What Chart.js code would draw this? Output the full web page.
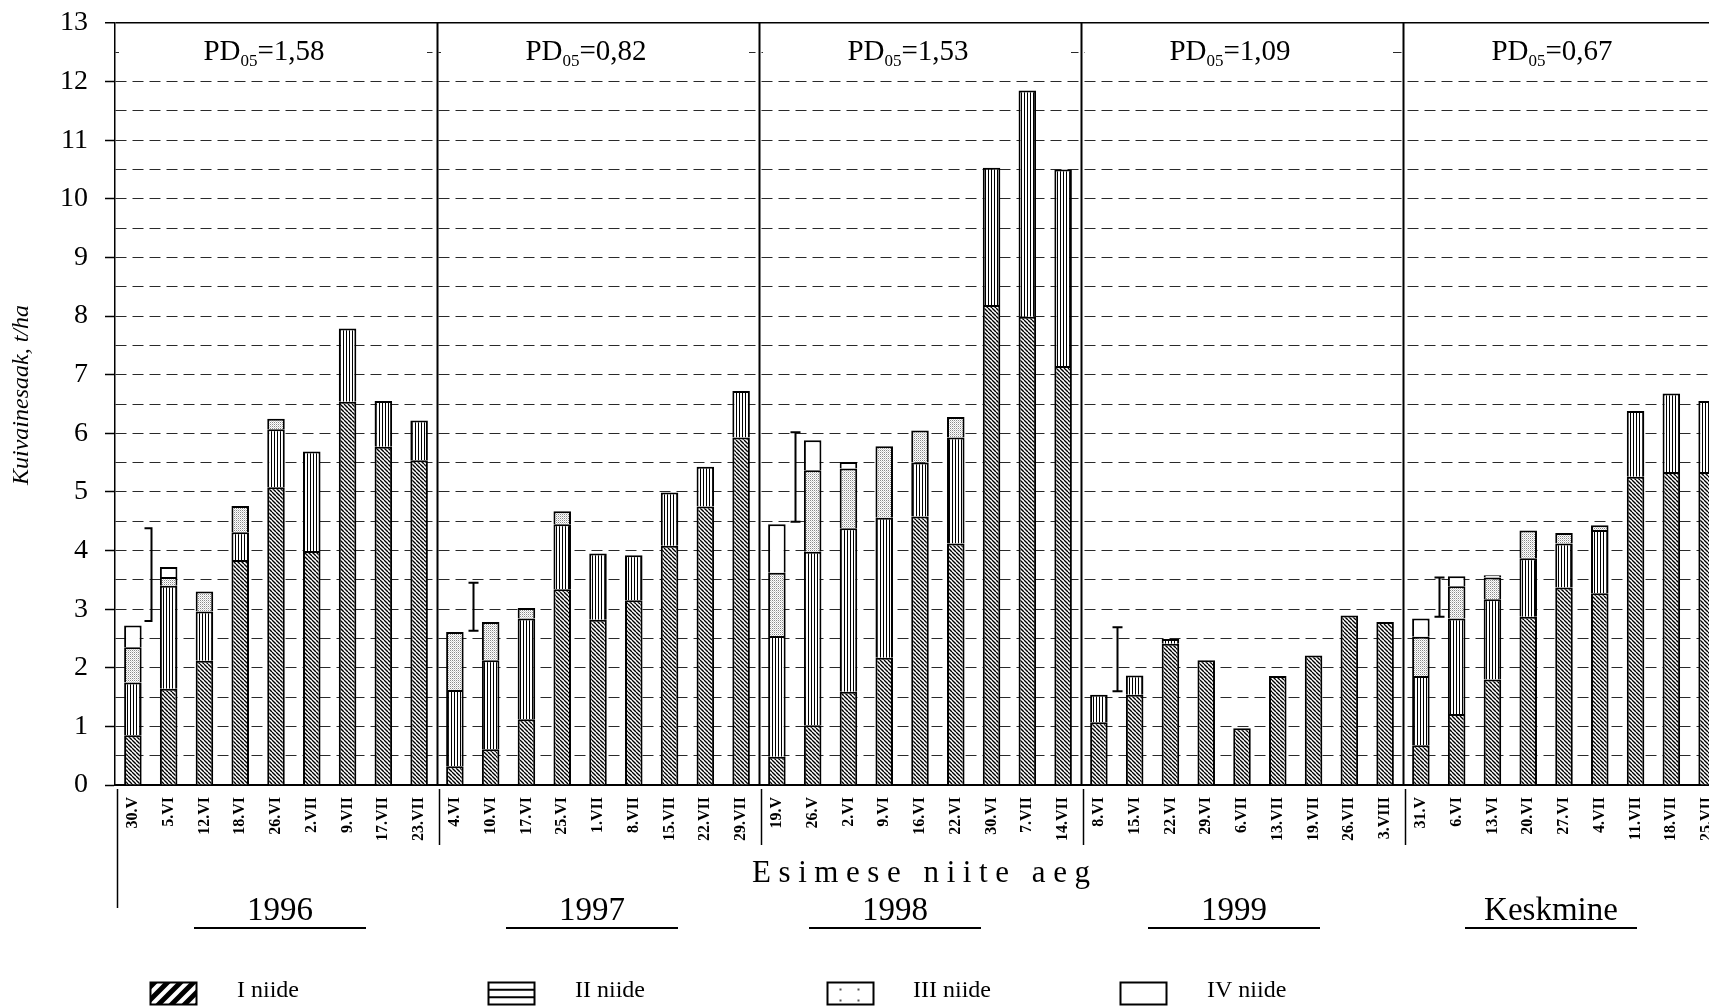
<!DOCTYPE html>
<html><head><meta charset="utf-8">
<script src="https://cdn.jsdelivr.net/npm/chart.js@4.4.0/dist/chart.umd.min.js"></script>
<style>
html,body{margin:0;padding:0;background:#fff;overflow:hidden;width:1709px;height:1007px}
#wrap{position:absolute;left:0;top:0;width:1730px;height:1007px}
canvas{display:block}
</style></head>
<body><div id="wrap"><canvas id="c" width="1730" height="1007"></canvas></div>
<script>
// ---------- DATA ----------
const groups = ['1996','1997','1998','1999','Keskmine'];
const dates = [
 '30.V','5.VI','12.VI','18.VI','26.VI','2.VII','9.VII','17.VII','23.VII',
 '4.VI','10.VI','17.VI','25.VI','1.VII','8.VII','15.VII','22.VII','29.VII',
 '19.V','26.V','2.VI','9.VI','16.VI','22.VI','30.VI','7.VII','14.VII',
 '8.VI','15.VI','22.VI','29.VI','6.VII','13.VII','19.VII','26.VII','3.VIII',
 '31.V','6.VI','13.VI','20.VI','27.VI','4.VII','11.VII','18.VII','25.VII'
];
const niideI = [
 0.85,1.64,2.12,3.84,5.08,3.99,6.54,5.77,5.54,
 0.32,0.61,1.12,3.34,2.82,3.15,4.08,4.75,5.93,
 0.48,1.02,1.59,2.17,4.58,4.12,8.19,7.99,7.15,
 1.07,1.54,2.41,2.13,0.97,1.86,2.21,2.89,2.78,
 0.68,1.21,1.80,2.87,3.37,3.27,5.26,5.34,5.34
];
const niideII = [
 0.90,1.76,0.84,0.47,0.99,1.70,1.25,0.78,0.68,
 1.30,1.52,1.72,1.11,1.13,0.77,0.91,0.68,0.79,
 2.06,2.96,2.79,2.39,0.92,1.81,2.34,3.86,3.35,
 0.47,0.33,0.08,null,null,null,null,null,null,
 1.18,1.63,1.37,1.00,0.75,1.08,1.12,1.34,1.21
];
const niideIII = [
 0.60,0.15,0.34,0.45,0.18,null,null,null,null,
 0.99,0.65,0.18,0.22,null,null,null,null,null,
 1.08,1.39,1.02,1.22,0.55,0.35,null,null,null,
 null,null,null,null,null,null,null,null,null,
 0.67,0.55,0.37,0.47,0.18,0.08,null,null,null
];
const niideIV = [
 0.37,0.17,null,null,null,null,null,null,null,
 null,null,null,null,null,null,null,null,null,
 0.83,0.51,0.11,null,null,null,null,null,null,
 null,null,null,null,null,null,null,null,null,
 0.31,0.17,0.04,null,null,null,null,null,null
];
const pdText = ['1,58','0,82','1,53','1,09','0,67'];
const pdLow  = [2.80, 2.63, 4.49, 1.60, 2.87];
const pdHigh = [4.38, 3.45, 6.02, 2.69, 3.54];
const seriesNames = ['I niide','II niide','III niide','IV niide'];
const yTickMax = 13, yTickStep = 0.5;

// ---------- LAYOUT / STYLE ----------
const SERIF = "'Liberation Serif','Times New Roman',serif";
Chart.defaults.font.family = SERIF;
const canvas = document.getElementById('c');
const ctx0 = canvas.getContext('2d');

function makePattern(w, h, draw) {
  const c = document.createElement('canvas');
  c.width = w; c.height = h;
  const g = c.getContext('2d');
  g.fillStyle = '#fff'; g.fillRect(0, 0, w, h);
  draw(g, w, h);
  return ctx0.createPattern(c, 'repeat');
}
const patI = makePattern(4, 4, (g) => {
  g.strokeStyle = '#000'; g.lineWidth = 1.35;
  for (const x0 of [-4, 0, 4]) { g.beginPath(); g.moveTo(x0, 0); g.lineTo(x0 + 4, 4); g.stroke(); }
});
const patII = makePattern(3, 4, (g) => { g.fillStyle = '#000'; g.fillRect(1, 0, 1, 4); });
const patIII = makePattern(2, 2, (g) => { g.fillStyle = '#8a8a8a'; g.fillRect(0, 0, 1, 1); g.fillStyle='#d0d0d0'; g.fillRect(1,1,1,1); });
const fills = [patI, patII, patIII, '#ffffff'];
const seriesData = [niideI, niideII, niideIII, niideIV];

const yearOffsets = [4, -6, -25, -8, -13];

const overlay = {
  id: 'overlay',
  afterDraw(chart) {
    const { ctx, chartArea: a, scales: { x, y } } = chart;
    const cw = (a.right - a.left) / dates.length;
    const gw = cw * 9;
    ctx.save();
    // white boxes over the 12.5 line + PD labels
    const y125 = y.getPixelForValue(12.5);
    groups.forEach((g, i) => {
      const gl = a.left + i * gw;
      ctx.fillStyle = '#fff';
      ctx.fillRect(gl + 4, y125 - 3, gw - 14, 6);
      const base = a.top + 37;
      ctx.fillStyle = '#000';
      ctx.textBaseline = 'alphabetic';
      ctx.textAlign = 'left';
      const big = '29px ' + SERIF, small = '17px ' + SERIF;
      ctx.font = big; const w1 = ctx.measureText('PD').width;
      ctx.font = small; const w2 = ctx.measureText('05').width;
      ctx.font = big; const w3 = ctx.measureText('=' + pdText[i]).width;
      const tw = w1 + w2 + w3;
      const sx = gl + gw / 2 - 12 - tw / 2;
      ctx.font = big; ctx.fillText('PD', sx, base);
      ctx.font = small; ctx.fillText('05', sx + w1, base + 6);
      ctx.font = big; ctx.fillText('=' + pdText[i], sx + w1 + w2, base);
    });
    // group separators (above axis)
    ctx.strokeStyle = '#000';
    ctx.lineWidth = 2;
    for (let k = 1; k < groups.length; k++) {
      const sx = Math.round(a.left + k * gw) + 0.5;
      ctx.beginPath(); ctx.moveTo(sx, a.top); ctx.lineTo(sx, a.bottom); ctx.stroke();
    }
    // separators below axis
    ctx.lineWidth = 1.5;
    for (let k = 0; k < groups.length; k++) {
      const sx = Math.round(a.left + k * gw) + 2.5;
      ctx.beginPath(); ctx.moveTo(sx, a.bottom + 4); ctx.lineTo(sx, a.bottom + (k === 0 ? 123 : 60)); ctx.stroke();
    }
    // PD05 error bars
    ctx.lineWidth = 2;
    groups.forEach((g, i) => {
      const ex = Math.round((x.getPixelForValue(i * 9) + x.getPixelForValue(i * 9 + 1)) / 2) + 0.5;
      const y1 = y.getPixelForValue(pdLow[i]), y2 = y.getPixelForValue(pdHigh[i]);
      const cl = i === 0 ? 7 : 5, cr = i === 0 ? 1 : 5;
      ctx.beginPath();
      ctx.moveTo(ex, y1); ctx.lineTo(ex, y2);
      ctx.moveTo(ex - cl, y1); ctx.lineTo(ex + cr, y1);
      ctx.moveTo(ex - cl, y2); ctx.lineTo(ex + cr, y2);
      ctx.stroke();
    });
    // y axis title
    ctx.save();
    ctx.translate(22, 395);
    ctx.rotate(-Math.PI / 2);
    ctx.font = 'italic 24px ' + SERIF;
    ctx.textAlign = 'center'; ctx.textBaseline = 'middle';
    ctx.fillStyle = '#000';
    ctx.fillText('Kuivainesaak, t/ha', 0, 0);
    ctx.restore();
    // x axis title with letter spacing
    {
      const title = 'Esimese niite aeg';
      ctx.font = '31px ' + SERIF;
      ctx.textAlign = 'left'; ctx.textBaseline = 'alphabetic';
      const chars = [...title];
      const natural = chars.reduce((s, c) => s + ctx.measureText(c).width, 0);
      const target = 338;
      const sp = (target - natural) / (chars.length - 1);
      let cx = 921 - target / 2;
      chars.forEach(c => { ctx.fillText(c, cx, 882); cx += ctx.measureText(c).width + sp; });
    }
    // year labels + underlines
    groups.forEach((g, i) => {
      const cx = a.left + i * gw + gw / 2 + yearOffsets[i];
      ctx.font = '33px ' + SERIF;
      ctx.textAlign = 'center'; ctx.textBaseline = 'alphabetic';
      ctx.fillStyle = '#000';
      ctx.fillText(g, cx, 920);
      ctx.lineWidth = 2;
      ctx.beginPath(); ctx.moveTo(cx - 86, 928); ctx.lineTo(cx + 86, 928); ctx.stroke();
    });
    // legend
    const lbx = [150, 488, 827, 1120], ltx = [237, 575, 913, 1207];
    seriesNames.forEach((n, i) => {
      const bx = lbx[i] + 0.5, by = 982.5, bw = 46, bh = 22;
      ctx.save();
      ctx.fillStyle = '#fff'; ctx.fillRect(bx, by, bw, bh);
      ctx.beginPath(); ctx.rect(bx, by, bw, bh); ctx.clip();
      ctx.strokeStyle = '#000';
      if (i === 0) {
        ctx.lineWidth = 5;
        for (let s = -20; s < bw + 20; s += 13) { ctx.beginPath(); ctx.moveTo(bx + s, by + bh + 2); ctx.lineTo(bx + s + bh + 4, by - 2); ctx.stroke(); }
      } else if (i === 1) {
        ctx.lineWidth = 2;
        ctx.beginPath(); ctx.moveTo(bx, by + bh / 3); ctx.lineTo(bx + bw, by + bh / 3);
        ctx.moveTo(bx, by + 2 * bh / 3); ctx.lineTo(bx + bw, by + 2 * bh / 3); ctx.stroke();
      } else if (i === 2) {
        ctx.fillStyle = '#555';
        [[12, 6], [30, 6], [12, 17], [30, 17]].forEach(([dx, dy]) => ctx.fillRect(bx + dx, by + dy, 2, 2));
      }
      ctx.restore();
      ctx.strokeStyle = '#000'; ctx.lineWidth = 2;
      ctx.strokeRect(bx, by, bw, bh);
      ctx.font = '24px ' + SERIF;
      ctx.fillStyle = '#000'; ctx.textAlign = 'left'; ctx.textBaseline = 'alphabetic';
      ctx.fillText(n, ltx[i], 997);
    });
    ctx.restore();
  }
};

new Chart(canvas, {
  type: 'bar',
  data: {
    labels: dates,
    datasets: seriesNames.map((n, i) => ({
      label: n,
      data: seriesData[i],
      backgroundColor: fills[i],
      borderColor: '#000',
      borderWidth: 2,
      stack: 's'
    }))
  },
  options: {
    responsive: false,
    animation: false,
    events: [],
    barPercentage: 0.49,
    categoryPercentage: 1.0,
    layout: { padding: { left: 0, right: 5, top: 23, bottom: 0 } },
    plugins: { legend: { display: false }, tooltip: { enabled: false }, title: { display: false } },
    scales: {
      x: {
        stacked: true,
        grid: { display: false, drawTicks: false },
        border: { display: true, color: '#000', width: 2 },
        ticks: {
          autoSkip: false, maxRotation: 90, minRotation: 90, padding: 12,
          color: '#000', font: { family: SERIF, size: 16, weight: 'bold' }
        },
        afterFit: (s) => { s.height = 222; s.paddingLeft = 0; s.paddingRight = 0; }
      },
      y: {
        stacked: true,
        min: 0, max: yTickMax,
        ticks: {
          stepSize: yTickStep, autoSkip: false, padding: 17,
          color: '#000', font: { family: SERIF, size: 28 },
          callback: (v) => Number.isInteger(v) ? String(v) : ''
        },
        grid: {
          color: (c) => (c.tick && c.tick.value === yTickMax) ? '#000' : '#2a2a2a',
          lineWidth: (c) => (c.tick && c.tick.value === yTickMax) ? 1.5 : 1,
          tickLength: 10,
          tickWidth: 1.5,
          tickColor: (c) => (c.tick && Number.isInteger(c.tick.value)) ? '#000' : 'rgba(0,0,0,0)'
        },
        border: {
          display: true, color: '#000', width: 1.5,
          dash: (c) => (c.tick && c.tick.value > 0 && c.tick.value < yTickMax) ? [11, 6] : []
        },
        afterFit: (s) => { s.width = 115; s.paddingTop = 0; s.paddingBottom = 0; }
      }
    }
  },
  plugins: [overlay]
});
</script>
</body></html>
